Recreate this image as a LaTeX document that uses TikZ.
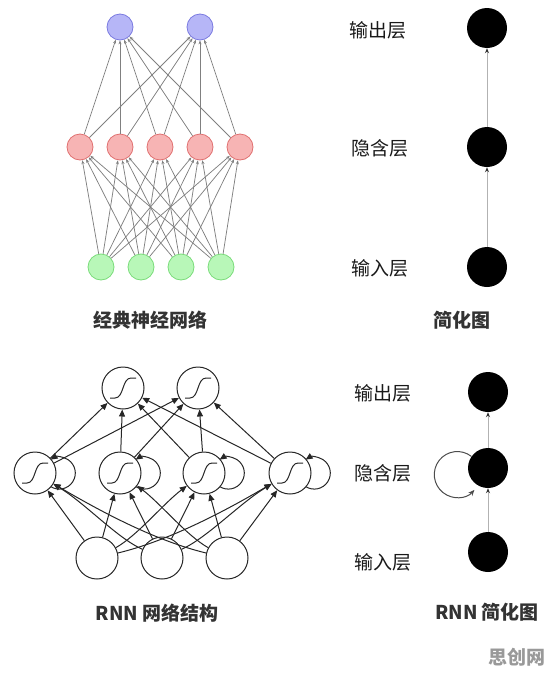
\documentclass[tikz,border=0pt]{standalone}
\usepackage{fontspec}
\newfontfamily\cjk{Noto Sans CJK SC}
\usetikzlibrary{arrows.meta}
\definecolor{bluef}{HTML}{B6B6F7}
\definecolor{bluel}{HTML}{7A7AE0}
\definecolor{redf}{HTML}{F7B4B4}
\definecolor{redl}{HTML}{E07070}
\definecolor{greenf}{HTML}{B8F7B8}
\definecolor{greenl}{HTML}{7ADC7A}
\definecolor{titlec}{HTML}{333333}
\begin{document}
\begin{tikzpicture}[x=1pt,y=-1pt,
  cnode/.style={circle,minimum size=26pt,inner sep=0pt,line width=0.8pt},
  bnode/.style={cnode,draw=bluel,fill=bluef},
  rnodec/.style={cnode,draw=redl,fill=redf},
  gnode/.style={cnode,draw=greenl,fill=greenf},
  garrow/.style={draw=black!50,line width=0.75pt,-{Stealth[length=4pt,width=3pt]}},
  snode/.style={circle,fill=black,minimum size=40pt,inner sep=0pt},
  sarrow/.style={draw=gray!60,line width=1pt,-{Stealth[length=5pt,width=4pt,color=black!80]}},
  rnn/.style={circle,draw=black!85,fill=white,minimum size=42pt,inner sep=0pt,line width=1pt},
  sig/.style={rnn,path picture={\draw[line width=1pt] (path picture bounding box.center) ++(-13,10) -- ++(5,0) .. controls +(9,0) and +(-9,0) .. ++(16,-20) -- ++(5,0);}},
  barrow/.style={draw=black!85,line width=1pt,-{Triangle[length=7pt,width=6pt]}},
  lbl/.style={font=\cjk\fontsize{19}{19}\selectfont,text=black!90},
  ttl/.style={font=\cjk\bfseries\fontsize{19}{19}\selectfont,text=titlec}
]
\useasboundingbox (0,0) rectangle (553,675);
% ---------- classic network
\foreach \i/\x in {1/101,2/141,3/181,4/221} \node[gnode] (i\i) at (\x,267) {};
\foreach \i/\x in {1/80,2/120,3/160,4/200,5/240} \node[rnodec] (h\i) at (\x,147) {};
\foreach \i/\x in {1/120,2/200} \node[bnode] (o\i) at (\x,27) {};
\foreach \i in {1,...,4} \foreach \j in {1,...,5} \draw[garrow] (i\i) -- (h\j);
\foreach \j in {1,...,5} \foreach \k in {1,2} \draw[garrow] (h\j) -- (o\k);
\node[ttl] (t1) at (150,320) {经典神经网络};
% ---------- simplified
\node[snode] (sA) at (487,28) {};
\node[snode] (sB) at (487,147) {};
\node[snode] (sC) at (487,267) {};
\draw[sarrow] (sC) -- (sB);
\draw[sarrow] (sB) -- (sA);
\node[lbl] (lA) at (378,30) {输出层};
\node[lbl] (lB) at (380,148) {隐含层};
\node[lbl] (lC) at (380,268) {输入层};
\node[ttl] (t2) at (462,320) {简化图};
% ---------- RNN network
\foreach \i/\x in {1/35,2/120,3/204,4/290} \draw[barrow] ([shift={(-0.5,0)}]\x+16.1,486.5) arc[start angle=123,end angle=-123,radius=16];
\foreach \i/\x in {1/97,2/162,3/227} \node[rnn] (ri\i) at (\x,558) {};
\foreach \i/\x in {1/35,2/120,3/204,4/290} \node[sig] (rh\i) at (\x,473) {};
\foreach \i/\x in {1/123,2/198} \node[sig] (ro\i) at (\x,388) {};
\foreach \j in {1,...,4} \foreach \k in {1,2} \draw[barrow] (rh\j) -- (ro\k);
\draw[barrow] (ri1) -- (rh1);
\draw[barrow] (ri1) -- (rh2);
\draw[barrow] (ri1) .. controls +(40,-22) and +(-40,30) .. (rh3);
\draw[barrow] (ri1) .. controls +(75,-18) and +(-60,35) .. (rh4);
\draw[barrow] (ri2) .. controls +(-45,-20) and +(50,30) .. (rh1);
\draw[barrow] (ri2) -- (rh2);
\draw[barrow] (ri2) -- (rh3);
\draw[barrow] (ri2) .. controls +(45,-20) and +(-50,30) .. (rh4);
\draw[barrow] (ri3) .. controls +(-75,-18) and +(60,35) .. (rh1);
\draw[barrow] (ri3) .. controls +(-40,-22) and +(40,30) .. (rh2);
\draw[barrow] (ri3) -- (rh3);
\draw[barrow] (ri3) -- (rh4);
\node[ttl] (t3) at (157,613) {RNN 网络结构};
% ---------- RNN simplified
\node[snode] (rA) at (488,392) {};
\node[snode] (rB) at (488,468) {};
\node[snode] (rC) at (488,552) {};
\draw[sarrow] (rC) -- (rB);
\draw[sarrow] (rB) -- (rA);
\draw[draw=black!70,line width=1pt,-{Stealth[length=6pt,width=5pt]}] (rB.145) arc[start angle=-52,end angle=-318,radius=23];
\node[lbl] (mA) at (383,393) {输出层};
\node[lbl] (mB) at (383,473) {隐含层};
\node[lbl] (mC) at (383,562) {输入层};
\node[ttl] (t4) at (487,612) {RNN 简化图};
\node[font=\cjk\bfseries\fontsize{19}{19}\selectfont,text=black!40] (wm) at (517,657) {思创网};
\end{tikzpicture}
\end{document}
